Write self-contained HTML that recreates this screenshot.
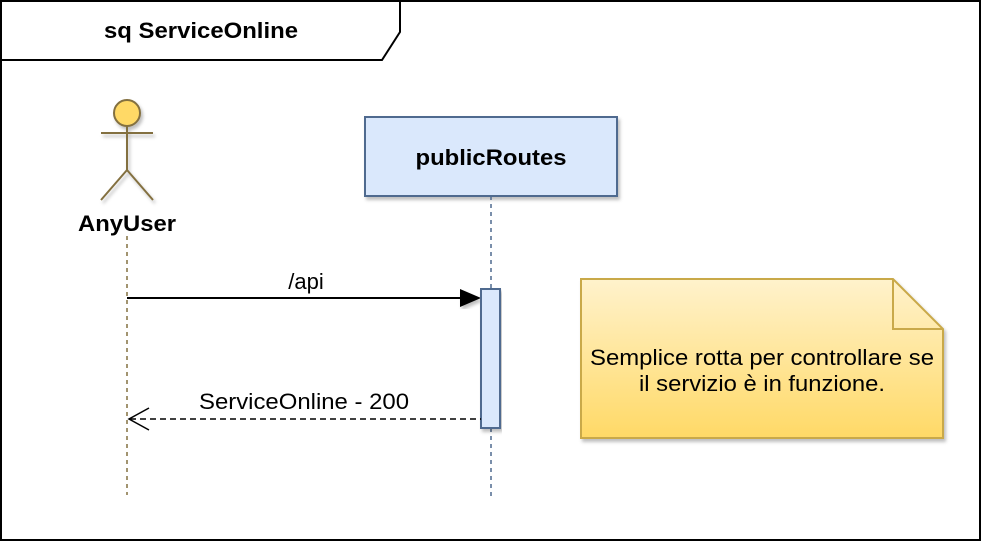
<!DOCTYPE html>
<html><head><style>body{margin:0;background:#fff}</style></head><body>
<svg width="982" height="542" xmlns="http://www.w3.org/2000/svg" font-family="Liberation Sans, Arial, sans-serif">
<defs>
<linearGradient id="g" x1="0" y1="0" x2="0" y2="1"><stop offset="0" stop-color="#fff2cc"/><stop offset="1" stop-color="#ffd966"/></linearGradient>
<filter id="s"><feDropShadow dx="2" dy="3" stdDeviation="1.5" flood-opacity="0.25"/></filter>
</defs>
<rect x="1" y="1" width="979" height="539" fill="#fff" stroke="#000" stroke-width="2"/>
<path d="M1 60 H382 L400 32 V1" fill="none" stroke="#000" stroke-width="2"/>
<text x="201" y="38" text-anchor="middle" font-weight="bold" font-size="22" textLength="194" lengthAdjust="spacingAndGlyphs">sq ServiceOnline</text>
<g stroke="#837040" stroke-width="2" fill="none" filter="url(#s)">
<circle cx="127" cy="113" r="13" fill="#ffd966"/>
<line x1="101" y1="133" x2="153" y2="133"/>
<line x1="127" y1="126" x2="127" y2="170"/>
<path d="M101 200 L127 170 L153 200"/>
</g>
<text x="127" y="231" text-anchor="middle" font-weight="bold" font-size="22" textLength="98" lengthAdjust="spacingAndGlyphs">AnyUser</text>
<line x1="127" y1="236" x2="127" y2="495" stroke="#837040" stroke-width="1.5" stroke-dasharray="4 4"/>
<rect x="365" y="117" width="252" height="79" fill="#dae8fc" stroke="#4f6a8f" stroke-width="2" filter="url(#s)"/>
<text x="491" y="165" text-anchor="middle" font-weight="bold" font-size="22" textLength="151" lengthAdjust="spacingAndGlyphs">publicRoutes</text>
<line x1="491" y1="196" x2="491" y2="500" stroke="#4f6a8f" stroke-width="1.5" stroke-dasharray="4 4"/>
<line x1="127" y1="298" x2="462" y2="298" stroke="#000" stroke-width="2"/>
<path d="M481 298 L460 289 L460 307 Z" fill="#000" filter="url(#s)"/>
<text x="306" y="289" text-anchor="middle" font-size="22">/api</text>
<rect x="481" y="289" width="19" height="139" fill="#dae8fc" stroke="#4f6a8f" stroke-width="2" filter="url(#s)"/>
<line x1="130" y1="419" x2="481" y2="419" stroke="#000" stroke-width="1.5" stroke-dasharray="6 4"/>
<path d="M149 408 L129 419 L149 430" fill="none" stroke="#000" stroke-width="1.5"/>
<text x="304" y="409" text-anchor="middle" font-size="22" textLength="210" lengthAdjust="spacingAndGlyphs">ServiceOnline - 200</text>
<path d="M581 279 H893 L943 329 V438 H581 Z" fill="url(#g)" stroke="#c9a94a" stroke-width="2" filter="url(#s)"/>
<path d="M893 279 V329 H943" fill="none" stroke="#c9a94a" stroke-width="2"/>
<text x="762" y="365" text-anchor="middle" font-size="22" textLength="344" lengthAdjust="spacingAndGlyphs">Semplice rotta per controllare se</text>
<text x="762" y="391" text-anchor="middle" font-size="22" textLength="246" lengthAdjust="spacingAndGlyphs">il servizio è in funzione.</text>
</svg>
</body></html>
